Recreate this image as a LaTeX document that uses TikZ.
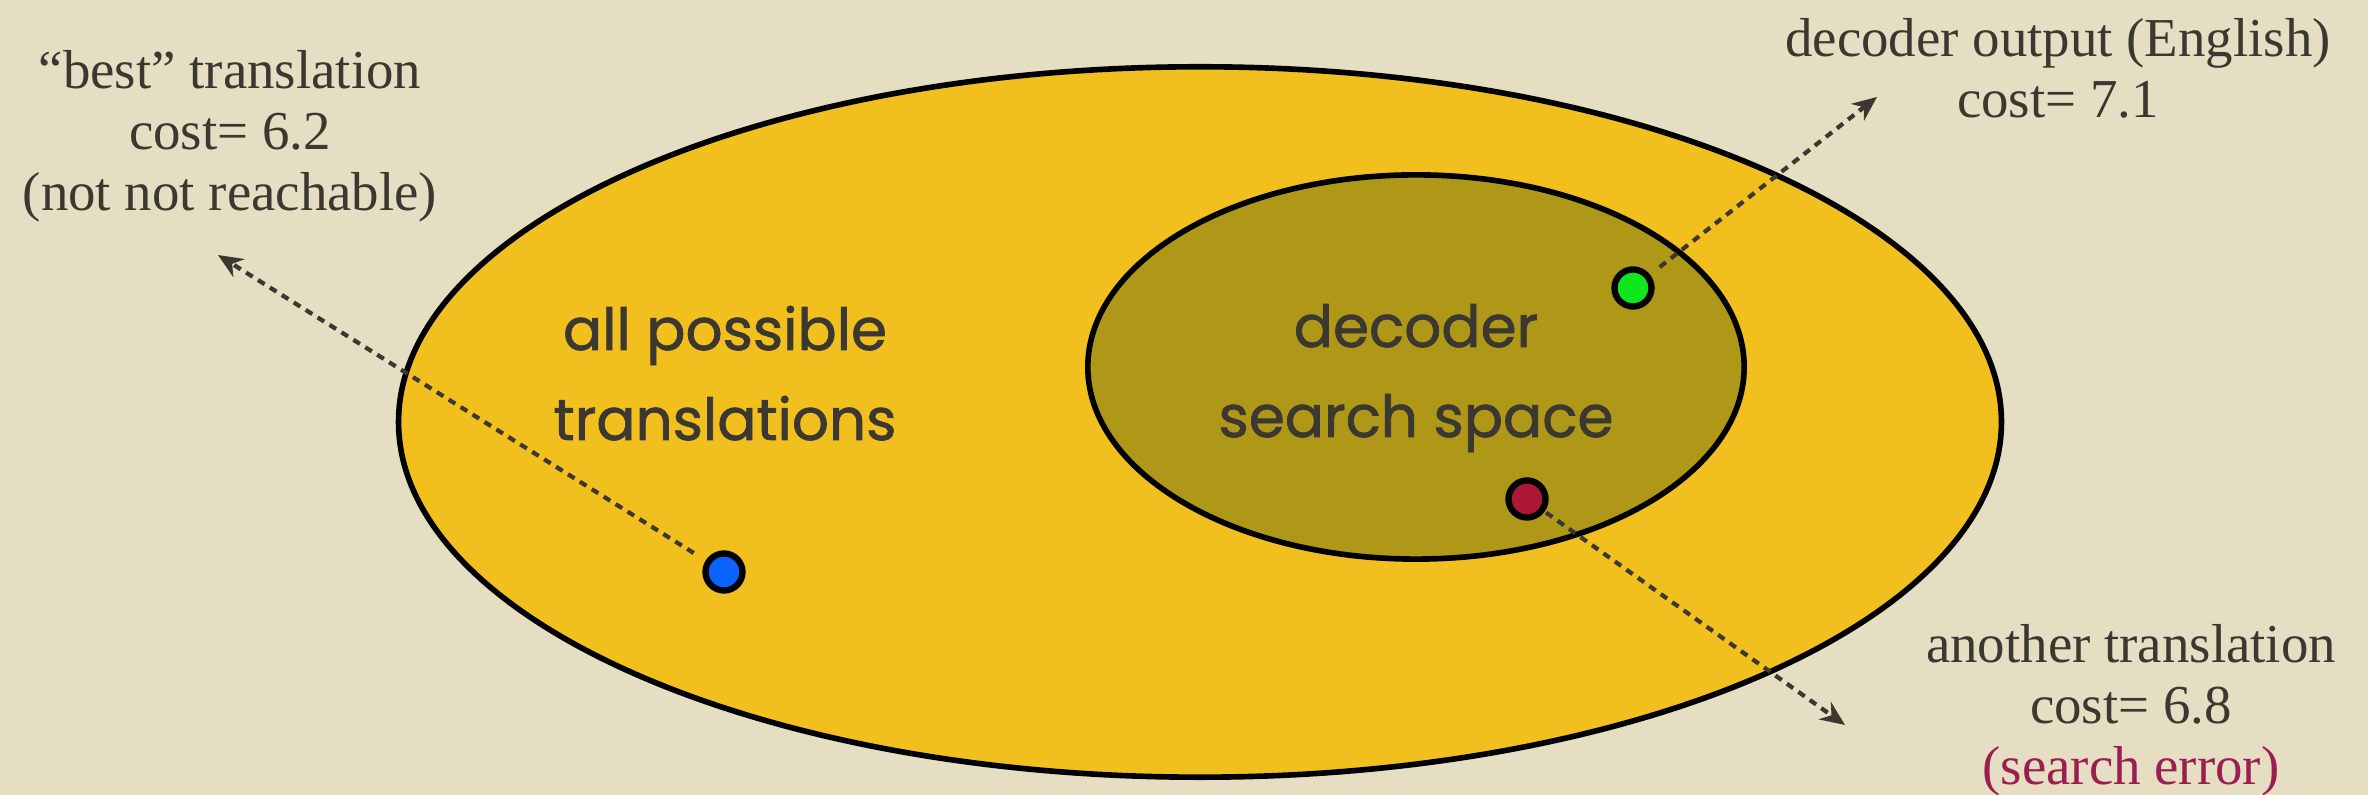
\documentclass[tikz,border=0pt]{standalone}
\usepackage{fontspec}
\setmainfont{Liberation Serif}
\newfontfamily\handfont[FakeBold=1.3]{Poppins}
\usetikzlibrary{shapes.geometric,arrows.meta}
\definecolor{paper}{HTML}{E5DEC2}
\definecolor{ink}{HTML}{3B3731}
\definecolor{outerfill}{HTML}{F2C01E}
\definecolor{innerfill}{HTML}{AF9818}
\definecolor{dotgreen}{HTML}{0CE81C}
\definecolor{dotblue}{HTML}{0A64FF}
\definecolor{dotred}{HTML}{AE1838}
\definecolor{errred}{HTML}{9B1E50}
\tikzset{
  region/.style={ellipse, draw=black, line width=1.6pt, inner sep=0pt},
  setlabel/.style={font=\handfont\fontsize{16.5}{25.6}\selectfont, text=ink, align=center, anchor=base, inner sep=0pt},
  note/.style={font=\fontsize{15.6}{17.4}\selectfont, text=ink, align=center, anchor=base, inner sep=0pt},
  dot/.style={circle, draw=black, line width=1.8pt, inner sep=0pt, minimum size=0.37cm},
  pointer/.style={draw=ink, line width=1.2pt, dash pattern=on 2.2pt off 1.8pt, -{Stealth[length=7pt,width=6pt]}}
}
\begin{document}
\begin{tikzpicture}[x=0.01cm, y=-0.01cm]
  % page
  \fill[paper] (0,0) rectangle (2368,795);
  \useasboundingbox (0,0) rectangle (2368,795);

  % the two sets
  \node[region, fill=outerfill, minimum width=16.02cm, minimum height=7.10cm] (outer) at (1200,422) {};
  \node[region, fill=innerfill, minimum width=6.56cm, minimum height=3.84cm] (inner) at (1416,367) {};

  % labels are placed by the baseline of their last line
  \node[setlabel] (alltxt) at (725,440) {all possible\\translations};
  \node[setlabel] (searchtxt) at (1416,437) {decoder\\search space};

  % points
  \node[dot, fill=dotblue] (best) at (724,572) {};
  \node[dot, fill=dotgreen] (output) at (1633,288) {};
  \node[dot, fill=dotred] (other) at (1527,499) {};

  % arrow ends
  \coordinate (bestend) at (218,255);
  \coordinate (outputend) at (1877,97);
  \coordinate (otherend) at (1845,725);

  \draw[pointer, shorten <=4pt] (best) -- (bestend);
  \draw[pointer, shorten <=3.5pt] (output) -- (outputend);
  \draw[pointer, shorten <=0.5pt] (other) -- (otherend);

  % annotations
  \node[note] (besttxt) at (230,211) {“best” translation\\cost= 6.2\\(not not reachable)};
  \node[note] (outputtxt) at (2058,118) {decoder output (English)\\cost= 7.1};
  \node[note] (othertxt) at (2131,785) {another translation\\cost= 6.8\\\textcolor{errred}{(search error)}};
\end{tikzpicture}
\end{document}
